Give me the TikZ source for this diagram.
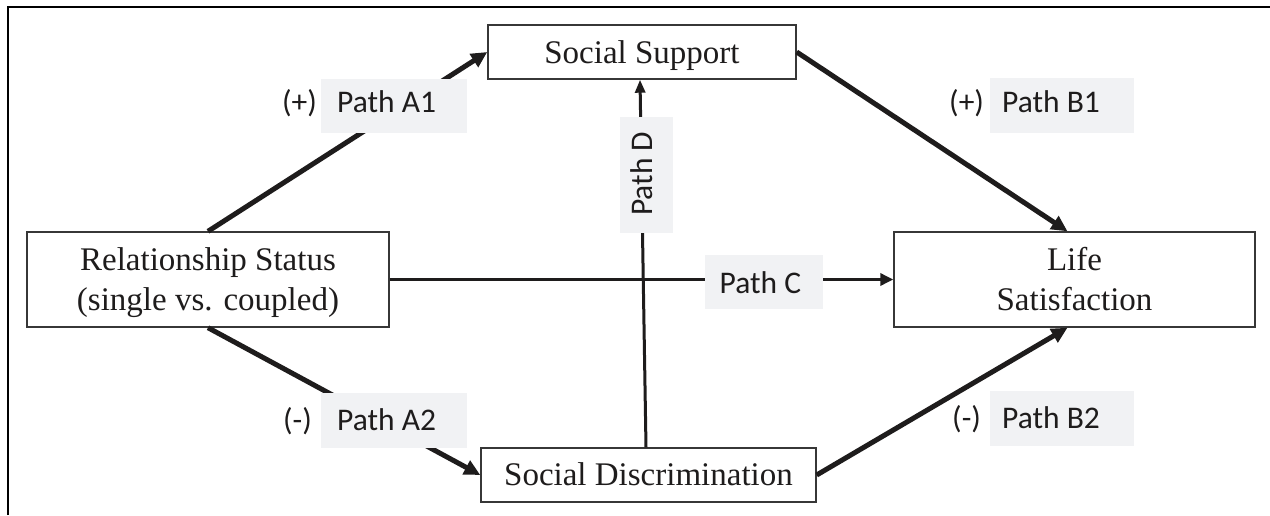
\documentclass[tikz,border=0pt]{standalone}
\usepackage{fontspec}
\setmainfont{Liberation Serif}
\newfontfamily\labelfont{Carlito}
\usetikzlibrary{arrows.meta}
\definecolor{labelgray}{RGB}{241,242,244}
\definecolor{boxline}{RGB}{55,55,55}
\definecolor{ink}{RGB}{30,28,28}
\tikzset{
  box/.style={draw=boxline, line width=1.4pt, inner sep=0pt, fill=white},
  boxtext/.style={inner sep=0pt, anchor=base, text=ink, font=\fontsize{33}{40}\selectfont},
  graybox/.style={fill=labelgray, inner sep=0pt},
  pathtext/.style={inner sep=0pt, anchor=base west, text=ink, font=\labelfont\fontsize{31.5}{38}\selectfont},
  thickarrow/.style={draw=ink, line width=5pt, -{Triangle[length=16pt,width=15pt]}},
  midarrow/.style={draw=ink, line width=3.5pt, -{Triangle[length=13pt,width=12pt]}},
  thinarrow/.style={draw=ink, line width=3pt, -{Triangle[length=13pt,width=10pt]}}
}
\begin{document}
\begin{tikzpicture}[x=1pt,y=-1pt]
\useasboundingbox (0,0) rectangle (1270,515);
\fill[white] (0,0) rectangle (1270,515);
% frame
\draw[line width=2.5pt, black] (8,515) -- (8,7) -- (1270,7);

% boxes
\node[box, minimum width=308pt, minimum height=54pt] (ss) at (642,52) {};
\node[box, minimum width=362pt, minimum height=95pt] (rs) at (208,279.5) {};
\node[box, minimum width=361pt, minimum height=95pt] (ls) at (1074.5,279.5) {};
\node[box, minimum width=335pt, minimum height=54pt] (sd) at (648.5,475) {};

% arrows
\draw[thickarrow] (rs.north) -- (ss.west);
\draw[thickarrow] (rs.south) -- (sd.west);
\draw[thickarrow] (ss.east) -- ([xshift=-7pt]ls.north);
\draw[thickarrow] (sd.east) -- ([xshift=-7pt]ls.south);
\draw[midarrow] (rs.east) -- (ls.west);
\draw[thinarrow] ([xshift=-2.5pt]sd.north) -- ([xshift=-2pt]ss.south);

% box texts
\node[boxtext] (sst) at (642,63) {Social Support};
\node[boxtext] (rst1) at (208,270) {Relationship Status};
\node[boxtext] (rst2) at (208,310) {(single vs. coupled)};
\node[boxtext] (lst1) at (1074.5,270) {Life};
\node[boxtext] (lst2) at (1074.5,310) {Satisfaction};
\node[boxtext] (sdt) at (648.5,485) {Social Discrimination};

% path labels
\node[graybox, minimum width=146pt, minimum height=54pt] (la1) at (394,106) {};
\node[pathtext] (la1t) at (337,112) {Path A1};
\node[pathtext] (la1s) at (282,112) {(+)};

\node[graybox, minimum width=146pt, minimum height=55pt] (la2) at (394,420.5) {};
\node[pathtext] (la2t) at (337,430) {Path A2};
\node[pathtext] (la2s) at (283,430) {(-)};

\node[graybox, minimum width=144pt, minimum height=55pt] (lb1) at (1062,105.5) {};
\node[pathtext] (lb1t) at (1002,112) {Path B1};
\node[pathtext] (lb1s) at (949,112) {(+)};

\node[graybox, minimum width=144pt, minimum height=55pt] (lb2) at (1062,418.5) {};
\node[pathtext] (lb2t) at (1002,428) {Path B2};
\node[pathtext] (lb2s) at (952,428) {(-)};

\node[graybox, minimum width=118pt, minimum height=54pt] (lc) at (764,282) {};
\node[pathtext] (lct) at (719.5,293) {Path C};

\node[graybox, minimum width=53pt, minimum height=116pt] (ld) at (646.5,175) {};
\node[pathtext, rotate=90] (ldt) at (652,216) {Path D};
\end{tikzpicture}
\end{document}
